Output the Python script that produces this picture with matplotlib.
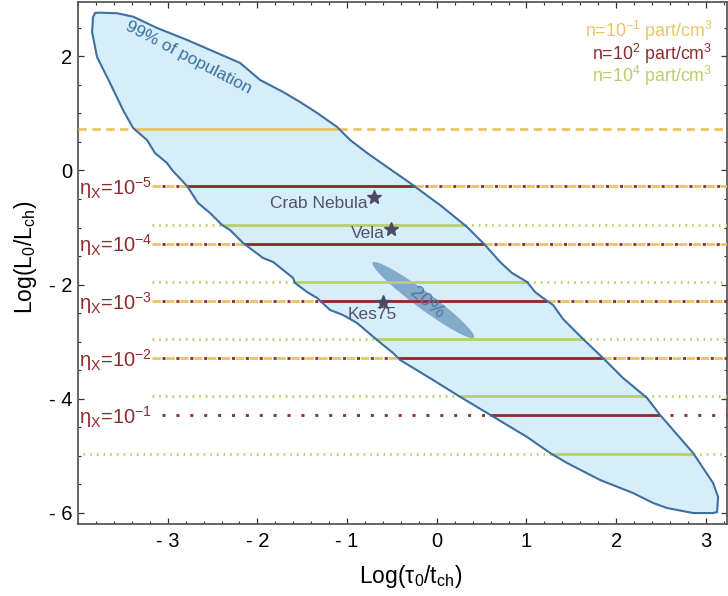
import numpy as np
import matplotlib
matplotlib.use("Agg")
import matplotlib.pyplot as plt
from matplotlib.ticker import MultipleLocator, FixedLocator, FuncFormatter
from matplotlib.patches import Polygon, Ellipse
from matplotlib.transforms import ScaledTranslation

plt.rcParams['font.family'] = ['Liberation Sans', 'DejaVu Sans']
plt.rcParams['mathtext.fontset'] = 'custom'
plt.rcParams['mathtext.rm'] = 'Liberation Sans'
plt.rcParams['mathtext.it'] = 'Liberation Sans:italic'
plt.rcParams['mathtext.bf'] = 'Liberation Sans:bold'

# ---- data -------------------------------------------------------------
# outline of the region holding 99% of the simulated population
pop_x = [-3.843, -3.832, -3.809, -3.754, -3.564, -3.386, -3.118, -2.784, -2.449,
         -2.193, -1.970, -1.713, -1.524, -1.334, -1.111, -0.966, -0.777, -0.554,
         -0.298, -0.041, 0.037, 0.338, 0.538, 0.706, 0.839, 1.007, 1.096, 1.185,
         1.297, 1.408, 1.631, 1.854, 2.077, 2.345, 2.490, 2.858, 3.081, 3.137,
         3.125, 3.081, 2.858, 2.568, 2.412, 2.189, 1.821, 1.453, 1.264, 1.007,
         0.561, 0.227, -0.041, -0.409, -0.487, -0.666, -0.889, -1.045, -1.190,
         -1.334, -1.446, -1.580, -1.602, -1.713, -1.825, -1.937, -2.160, -2.305,
         -2.394, -2.528, -2.662, -2.784, -2.952, -3.008, -3.142, -3.231, -3.386,
         -3.498, -3.643, -3.788]
pop_y = [2.427, 2.690, 2.760, 2.765, 2.755, 2.695, 2.497, 2.287, 2.059,
         1.884, 1.586, 1.375, 1.200, 1.008, 0.762, 0.534, 0.307, 0.061,
         -0.219, -0.517, -0.605, -0.990, -1.305, -1.603, -1.796, -1.954, -2.129, -2.234,
         -2.357, -2.602, -2.953, -3.286, -3.636, -3.986, -4.284, -4.950, -5.476, -5.721,
         -5.984, -6.002, -6.002, -5.914, -5.826, -5.651, -5.423, -5.125, -4.950, -4.670,
         -4.249, -3.934, -3.671, -3.320, -3.198, -2.970, -2.672, -2.532, -2.444,
         -2.234, -2.129, -1.971, -1.884, -1.743, -1.603, -1.533, -1.270, -1.043,
         -0.955, -0.745, -0.569, -0.272, 0.009, 0.131, 0.307, 0.534, 0.745,
         1.060, 1.533, 1.989]

# 20% core of the population (centre, axes lengths in inches, angle)
core_center = (-0.15, -2.27)
core_size = (1.26, 0.17)
core_angle = -36.5

# constant-efficiency levels for the three ambient densities
levels_n1 = [0.73, -0.28, -1.28, -2.28, -3.28]      # n = 1e-1
levels_n2 = [-0.28, -1.28, -2.28, -3.28, -4.28]     # n = 1e2
levels_n4 = [-0.96, -1.96, -2.96, -3.96, -4.96]     # n = 1e4
start_n1 = [-4.0, -3.17, -3.17, -3.17, -3.17]
start_n2 = [-3.17, -3.17, -3.17, -3.17, -3.17]
start_n4 = [-3.17, -3.17, -3.17, -3.17, -3.94]
eta_labels = ["10$^{-5}$", "10$^{-4}$", "10$^{-3}$", "10$^{-2}$", "10$^{-1}$"]

# observed pulsars
psr_names = ["Crab Nebula", "Vela", "Kes75"]
psr_x = [-0.696, -0.509, -0.595]
psr_y = [-0.470, -1.025, -2.299]

x_limits = (-4.0, 3.236)
y_limits = (-6.194, 2.952)
x_ticks = [-3, -2, -1, 0, 1, 2, 3]
y_ticks = [-6, -4, -2, 0, 2]

# ---- style ------------------------------------------------------------
c_fill = "#d6eefa"
c_edge = "#3e6f9f"
c_core = "#84aaca"
c_yel = "#e9c463"
c_red = "#8e2a2b"
c_grn = "#b7cf6c"
c_star = "#4d4a68"
c_spine = "#5a5a5a"

fig = plt.figure(figsize=(7.28, 5.96), dpi=100)
ax = fig.add_axes([78 / 728, 1 - 524 / 596, 649 / 728, 522 / 596])
ax.set_xlim(*x_limits)
ax.set_ylim(*y_limits)

poly_xy = np.column_stack([pop_x, pop_y])
ax.add_patch(Polygon(poly_xy, closed=True, facecolor=c_fill, edgecolor="none", zorder=1))

core_tr = fig.dpi_scale_trans + ScaledTranslation(core_center[0], core_center[1], ax.transData)
ax.add_patch(Ellipse((0, 0), core_size[0], core_size[1], angle=core_angle,
                     facecolor=c_core, edgecolor="none", transform=core_tr, zorder=2))


def crossings(y):
    """x positions where the horizontal line at y cuts the contour outline."""
    xs = []
    px = np.append(pop_x, pop_x[0])
    py = np.append(pop_y, pop_y[0])
    for i in range(len(px) - 1):
        y0, y1 = py[i], py[i + 1]
        if (y0 - y) * (y1 - y) <= 0 and y0 != y1:
            t = (y - y0) / (y1 - y0)
            xs.append(px[i] + t * (px[i + 1] - px[i]))
    return min(xs), max(xs)


x_end = x_limits[1]
lw = 2.0

# n = 1e-1 lines (long yellow dashes)
for y, x0 in zip(levels_n1, start_n1):
    xl, xr = crossings(y)
    for a, b in [(x0, xl), (xr, x_end)]:
        ax.plot([a, b], [y, y], color=c_yel, lw=lw, linestyle=(0, (3.0, 2.0)),
                dash_capstyle="butt", zorder=3)
    ax.plot([xl, xr], [y, y], color=c_yel, lw=lw, solid_capstyle="butt", zorder=3)

# n = 1e2 lines (short red dashes in the yellow gaps)
for y, x0 in zip(levels_n2, start_n2):
    xl, xr = crossings(y)
    for a, b in [(x0, xl), (xr, x_end)]:
        ax.plot([a, b], [y, y], color=c_red, lw=lw, linestyle=(-3.6, (1.1, 3.9)),
                dash_capstyle="butt", zorder=3.2)
    ax.plot([xl, xr], [y, y], color=c_red, lw=lw, solid_capstyle="butt", zorder=3.5)

# n = 1e4 lines (green dots)
for y, x0 in zip(levels_n4, start_n4):
    xl, xr = crossings(y)
    for a, b in [(x0, xl), (xr, x_end)]:
        ax.plot([a, b], [y, y], color=c_grn, lw=lw, linestyle=(0, (0.6, 1.8)),
                dash_capstyle="butt", zorder=3)
    ax.plot([xl, xr], [y, y], color=c_grn, lw=lw, solid_capstyle="butt", zorder=3)

ax.add_patch(Polygon(poly_xy, closed=True, facecolor="none", edgecolor=c_edge, lw=1.5, zorder=4))

# efficiency labels on the left
ytr = ax.get_yaxis_transform()
for y, lab in zip(levels_n2, eta_labels):
    ax.annotate("η$_\\mathrm{X}$=" + lab, xy=(0.002, y), xycoords=ytr,
                xytext=(0, -6.3), textcoords="offset points",
                ha="left", va="baseline", fontsize=14.5, color=c_red, zorder=5)

# pulsars
ax.plot(psr_x, psr_y, linestyle="none", marker="*", markersize=10, color=c_star, zorder=6)
offsets = [(-5.0, -4.3), (-4.7, -3.0), (-8.0, -9.4)]
aligns = ["right", "right", "center"]
for name, x, y, off, ha in zip(psr_names, psr_x, psr_y, offsets, aligns):
    ax.annotate(name, xy=(x, y), xytext=off, textcoords="offset points",
                ha=ha, va="center", fontsize=12.5, color="#55516c", zorder=6)

ax.text(-2.77, 1.98, "99% of population", rotation=-27.5, rotation_mode="anchor",
        ha="center", va="center", fontsize=12.5, color=c_edge, zorder=5)
ax.text(-0.108, -2.322, "20%", rotation=-40, rotation_mode="anchor",
        ha="center", va="center", fontsize=14, color="#4d7aa6", zorder=5)

# density key
key_text = ["n=10$^{-1}$ part/cm$^{3}$", "n=10$^{2}$ part/cm$^{3}$", "n=10$^{4}$ part/cm$^{3}$"]
key_col = [c_yel, c_red, c_grn]
key_y = [0.933, 0.889, 0.847]
for t, c, yy in zip(key_text, key_col, key_y):
    ax.text(0.978, yy, t, transform=ax.transAxes, ha="right", va="baseline",
            fontsize=12.8, color=c, zorder=6)

# ---- axes -------------------------------------------------------------
def fmt(v, pos):
    iv = int(round(v))
    return f"- {abs(iv)}" if iv < 0 else f"{iv}"


ax.xaxis.set_major_locator(FixedLocator(x_ticks))
ax.xaxis.set_minor_locator(MultipleLocator(0.2))
ax.yaxis.set_major_locator(FixedLocator(y_ticks))
ax.yaxis.set_minor_locator(MultipleLocator(0.5))
ax.xaxis.set_major_formatter(FuncFormatter(fmt))
ax.yaxis.set_major_formatter(FuncFormatter(fmt))
ax.tick_params(which="both", direction="in", top=True, right=True,
               color="#333333", labelsize=14.5, labelcolor="black")
ax.tick_params(which="major", length=4.5, width=0.9, pad=6)
ax.tick_params(which="minor", length=2.4, width=0.8)
ax.tick_params(axis="y", which="major", pad=4)
for s in ax.spines.values():
    s.set_color(c_spine)
    s.set_linewidth(1.3)

ax.set_xlabel("Log(τ$_0$/t$_\\mathrm{ch}$)", fontsize=16.5)
ax.set_ylabel("Log(L$_0$/L$_\\mathrm{ch}$)", fontsize=16.5)
ax.xaxis.set_label_coords(0.512, -0.075)
ax.yaxis.set_label_coords(-0.060, 0.51)

fig.savefig("out.png", dpi=100)
